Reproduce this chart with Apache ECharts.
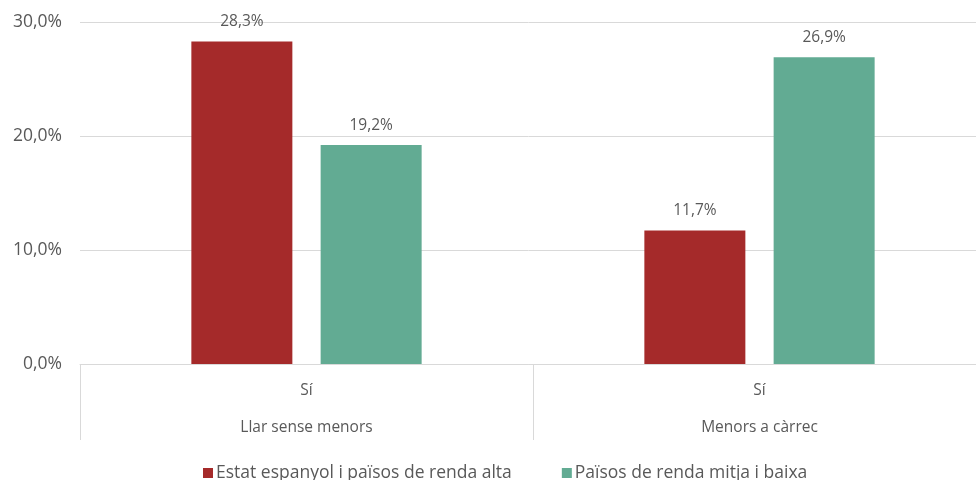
<!DOCTYPE html>
<html>
<head>
<meta charset="utf-8">
<script src="https://cdn.jsdelivr.net/npm/echarts@6/dist/echarts.min.js"></script>
<style>
  html, body { margin: 0; padding: 0; background: #fff; }
</style>
</head>
<body>
<div id="main" style="width:976px;height:480px;"></div>
<script>
    // dades
    var groups = ['Llar sense menors', 'Menors a càrrec'];
    var subLabels = ['Sí', 'Sí'];
    var seriesNames = ['Estat espanyol i països de renda alta', 'Països de renda mitja i baixa'];
    var altaValues = [28.3, 11.7];
    var baixaValues = [19.2, 26.9];
    var yTicks = [0, 10, 20, 30];

    var txt = '#595959';
    var font = 'Open Sans';
    function pct(v) { return v.toFixed(1).replace('.', ',') + '%'; }

    var myChart = echarts.init(document.getElementById('main'));
    var option = {
        animation: false,
        textStyle: { fontFamily: font, color: txt },
        grid: { left: 80, width: 906, top: 22, height: 342, outerBoundsMode: 'none' },
        legend: {
            top: 459,
            left: 198,
            itemWidth: 10,
            itemHeight: 10,
            itemGap: 50,
            icon: 'rect',
            textStyle: { fontFamily: font, fontSize: 17.5, color: txt, padding: [0, 0, 0, -2] },
            data: seriesNames
        },
        xAxis: [{
            type: 'category',
            data: subLabels,
            axisLine: { lineStyle: { color: '#d9d9d9' } },
            axisTick: { show: true, length: 76, interval: 0, lineStyle: { color: '#d9d9d9' } },
            axisLabel: { color: txt, fontSize: 15.5, margin: 19, fontFamily: font }
        }, {
            type: 'category',
            data: groups,
            position: 'bottom',
            offset: 0,
            axisLine: { show: false },
            axisTick: { show: false },
            axisLabel: { color: txt, fontSize: 15.5, margin: 56, fontFamily: font }
        }],
        yAxis: {
            type: 'value',
            min: yTicks[0],
            max: yTicks[yTicks.length - 1],
            interval: 10,
            axisLine: { show: false },
            axisTick: { show: false },
            splitLine: { lineStyle: { color: '#d9d9d9' } },
            axisLabel: { color: txt, fontSize: 17.5, margin: 18, formatter: pct, fontFamily: font }
        },
        series: [{
            name: seriesNames[0],
            type: 'bar',
            data: altaValues,
            barWidth: 101,
            barGap: '28%',
            itemStyle: { color: '#a52a2a' },
            label: { show: true, position: 'top', distance: 12, color: txt, fontSize: 15.5, formatter: function (p) { return pct(p.value); } }
        }, {
            name: seriesNames[1],
            type: 'bar',
            data: baixaValues,
            barWidth: 101,
            itemStyle: { color: '#62ab93' },
            label: { show: true, position: 'top', distance: 12, color: txt, fontSize: 15.5, formatter: function (p) { return pct(p.value); } }
        }]
    };
    myChart.setOption(option);
</script>
</body>
</html>
